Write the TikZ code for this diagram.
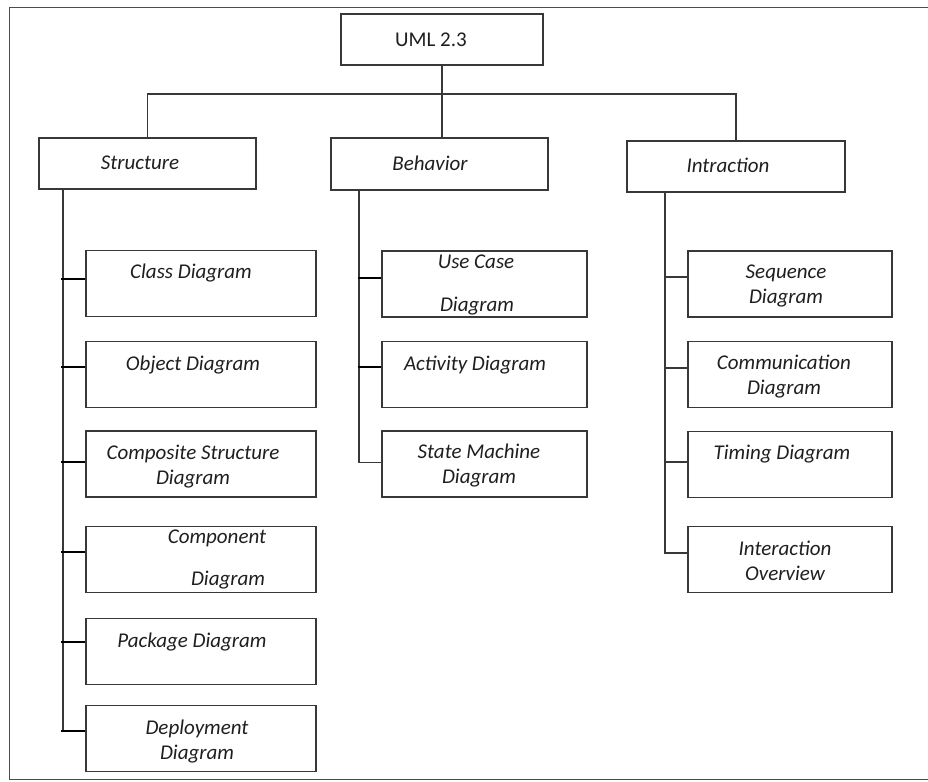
\documentclass[tikz,border=0pt]{standalone}
\usepackage{fontspec}
\setmainfont{Carlito}
\begin{document}
\begin{tikzpicture}[x=1pt,y=-1pt,
  linec/.style={draw=black!78},
  box/.style={linec, line width=1.3pt, inner sep=0pt, fill=white},
  lbl/.style={inner sep=0pt, text=black!88, font=\fontsize{21}{25}\selectfont\itshape, align=center},
  conn/.style={linec, line width=1.2pt},
  stubS/.style={draw=black, line width=2.4pt},
  stubI/.style={linec, line width=1.3pt},
  framec/.style={draw=black!70, line width=0.9pt}]
\useasboundingbox (0,0) rectangle (928,781);

% page frame
\draw[framec] (928,7) -- (9,7) -- (9,779) -- (928,779);

% root and category boxes
\node[box, minimum width=202, minimum height=51] (uml) at (442,39.5) {};
\node[box, minimum width=217, minimum height=51] (str) at (147.5,163.5) {};
\node[box, minimum width=217, minimum height=52] (beh) at (439.5,164) {};
\node[box, minimum width=218, minimum height=51] (int) at (736,166.5) {};

% structure diagrams
\foreach \n/\y in {cls/283.5, obj/374.5, cmp/464, com/559.5, pkg/651.5, dep/738.5}
  \node[box, minimum width=230, minimum height=66] (\n) at (201,\y) {};
% behavior diagrams
\foreach \n/\y in {uc/284, act/374.5, sm/464}
  \node[box, minimum width=205, minimum height=66] (\n) at (484.5,\y) {};
% interaction diagrams
\foreach \n/\y in {seq/284, comm/374.5, tim/464.5, io/559.5}
  \node[box, minimum width=204, minimum height=66] (\n) at (790,\y) {};

% labels
\node[inner sep=0pt, text=black!88, font=\fontsize{21}{25}\selectfont] (tuml) at (431,40) {UML 2.3};
\node[lbl] (tstr) at (140,163) {Structure};
\node[lbl] (tbeh) at (430,163) {Behavior};
\node[lbl] (tint) at (728,165) {Intraction};

\node[lbl] (tcls) at (191,273) {Class Diagram};
\node[lbl] (tobj) at (193,365) {Object Diagram};
\node[lbl] (tcmp) at (193,467) {Composite Structure\\Diagram};
\node[lbl] (tcom1) at (217,538) {Component};
\node[lbl] (tcom2) at (228,580) {Diagram};
\node[lbl] (tpkg) at (192,642) {Package Diagram};
\node[lbl] (tdep) at (197,741) {Deployment\\Diagram};

\node[lbl] (tuc1) at (476,262) {Use Case};
\node[lbl] (tuc2) at (477,306) {Diagram};
\node[lbl] (tact) at (475,365) {Activity Diagram};
\node[lbl] (tsm) at (479,466) {State Machine\\Diagram};

\node[lbl] (tseq) at (786,286) {Sequence\\Diagram};
\node[lbl] (tcomm) at (784,377) {Communication\\Diagram};
\node[lbl] (ttim) at (782,454) {Timing Diagram};
\node[lbl] (tio) at (785,561) {Interaction\\Overview};

% top-level connectors
\coordinate (bus) at (442,94);
\draw[conn] (uml.south) -- (uml.south |- beh.north);
\draw[conn] (str.north) |- (bus) -| (int.north);

% structure branch
\coordinate (sTop) at (63,189);
\coordinate (sBot) at (63,732);
\draw[conn] (sTop) -- (sBot);
\draw[stubS] ([yshift=4.5pt]cls.west) -- ++(-24,0);
\draw[stubS] ([yshift=7.5pt]obj.west) -- ++(-24,0);
\draw[stubS] ([yshift=2pt]cmp.west) -- ++(-24,0);
\draw[stubS] ([yshift=7.5pt]com.west) -- ++(-24,0);
\draw[stubS] ([yshift=9.5pt]pkg.west) -- ++(-24,0);
\draw[stubS] ([yshift=7.5pt]dep.west) -- ++(-24,0);

% behavior branch
\coordinate (bTop) at (359,190);
\coordinate (bBot) at (359,463);
\draw[conn] (bTop) -- (bBot);
\draw[stubS] ([yshift=6pt]uc.west) -- ++(-23,0);
\draw[stubS] ([yshift=7.5pt]act.west) -- ++(-23,0);
\draw[conn] ([yshift=1.5pt]sm.west) -- ++(-23,0);

% interaction branch
\coordinate (iTop) at (665,192);
\coordinate (iBot) at (665,554);
\draw[conn] (iTop) -- (iBot);
\draw[stubI] ([yshift=7pt]seq.west) -- ++(-23,0);
\draw[stubI] ([yshift=6.5pt]comm.west) -- ++(-23,0);
\draw[stubI] ([yshift=2.5pt]tim.west) -- ++(-23,0);
\draw[stubI] ([yshift=6.5pt]io.west) -- ++(-23,0);
\end{tikzpicture}
\end{document}
